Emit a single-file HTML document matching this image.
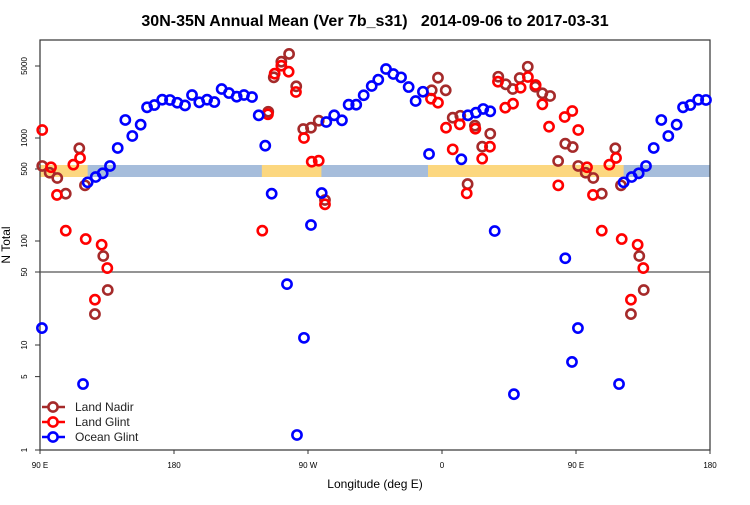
<!DOCTYPE html>
<html><head><meta charset="utf-8"><style>
body{margin:0;background:#fff}
svg text{font-family:"Liberation Sans",sans-serif}
</style></head><body>
<svg id="chart" width="750" height="500" xmlns="http://www.w3.org/2000/svg">
<text x="375" y="26" text-anchor="middle" font-size="16" font-weight="bold" style="white-space:pre">30N-35N Annual Mean (Ver 7b_s31)   2014-09-06 to 2017-03-31</text>
<g id="band"></g>
<g id="axes"></g>
<g id="marks"></g>
<text x="375" y="488" text-anchor="middle" font-size="12">Longitude (deg E)</text>
<text transform="translate(10,245) rotate(-90)" text-anchor="middle" font-size="12">N Total</text>
<g id="legend"></g>
</svg>
<script>
const xTicks=[90,180,270,360,450,540];
const xTickLabels=["90 E","180","90 W","0","90 E","180"];
const yTicksUpper=[50,100,500,1000,5000];
const yTicksLower=[1,5,10,50];
const landRanges=[[90,122],[239,279],[350.6,450]];
const nadirLon=[91.5,96.5,101.6,107.3,116.4,120.2,126.9,132.5,135.5,243.3,247,252.1,257.3,262.1,266.8,272,277.2,281.4,353.1,357.3,362.5,367.2,372.3,377.2,382.1,387,392.4,397.8,402.8,407.5,412.2,417.6,422.7,427.4,432.6,438,442.8,447.8];
const nadirVal=[535,460,409,288,794,347,19.7,71.5,33.4,1799,3882,5508,6545,3176,1223,1259,1472,250,2904,3849,2904,1574,1645,357,1316,823,1100,3935,3320,2990,3824,4920,3148,2715,2558,598,880,817];
const glintLon=[91.5,97.4,101.4,107.3,112.4,116.9,120.7,126.9,131.4,135.2,239.3,243.1,247.6,252.1,257,261.9,267.3,272.5,277.2,281.4,352.6,357.3,362.7,367.2,371.9,376.6,382.4,387,392.2,397.6,402.5,407.7,412.8,417.7,422.9,427.4,431.9,438.1,442.4,447.5];
const glintVal=[1196,520,280,126,551,640,104.5,27,92,54.6,126,1699,4210,5035,4403,2797,1000,589,602,227,2408,2202,1259,776,1358,290,1231,630,823,3522,1968,2152,3076,3910,3270,2124,1287,347,1599,1828];
const oceanLon=[91.3,118.9,122,127.4,132.1,137,142.2,147.3,152,157.6,161.9,166.8,172.1,177.3,182.2,187.4,192.1,197,202.2,207.1,212,216.9,222.1,227,232.4,236.9,241.3,245.6,255.9,262.6,267.3,272,279.2,282.3,287.6,292.8,297.3,302.4,307.4,312.8,317.2,322.4,327.3,332.5,337.6,342.3,347.2,351.3,373,377.4,382.8,387.7,392.4,395.4,408.3,442.8,447.3];
const oceanVal=[14.5,4.25,371,418,454,535,800,1496,1046,1346,1986,2090,2355,2340,2200,2070,2614,2220,2355,2235,2990,2733,2518,2614,2500,1660,842,288,38,1.39,11.7,143,292,1430,1660,1485,2105,2105,2600,3198,3683,4675,4180,3880,3125,2286,2814,699,621,1660,1762,1913,1816,125,3.4,68,6.9];

const NS="http://www.w3.org/2000/svg";
const L=40,R=710,T=40,B=450,MID=272;
function xs(lon){return L+(lon-90)*(R-L)/450;}
function ys(v){return v>=50? MID-(Math.log10(v)-Math.log10(50))*103 : B-Math.log10(v)*105;}
function mk(tag,attrs,parent){const e=document.createElementNS(NS,tag);for(const k in attrs)e.setAttribute(k,attrs[k]);parent.appendChild(e);return e;}
const band=document.getElementById('band'),axes=document.getElementById('axes'),marks=document.getElementById('marks'),legend=document.getElementById('legend');
let r=mk('rect',{x:L,y:165,width:R-L,height:12,fill:'#a6bddb'},band);


landRanges.forEach(rg=>{[0,360].forEach(off=>{
 let a=rg[0]+off,b=Math.min(rg[1]+off,540); if(a>=540)return;
 let e=mk('rect',{x:xs(a),y:165,width:xs(b)-xs(a),height:12,fill:'#fcd77f'},band);
 
 
});});
let f=mk('rect',{x:L,y:T,width:R-L,height:B-T,fill:'none',stroke:'#333','stroke-width':1.2},axes);


let ml=mk('line',{x1:L,x2:R,y1:MID,y2:MID,stroke:'#555','stroke-width':1.2},axes);


xTicks.forEach((t,i)=>{
 let x=xs(t);
 mk('line',{x1:x,x2:x,y1:B,y2:B+4,stroke:'#333'},axes);
 let tx=mk('text',{x:x,y:B+18,'text-anchor':'middle','font-size':8},axes);
 tx.textContent=xTickLabels[i];
 
 
});
function ytick(v){
 let y=ys(v);
 mk('line',{x1:L-5,x2:L,y1:y,y2:y,stroke:'#333'},axes);
 let tx=mk('text',{transform:`translate(27,${y}) rotate(-90)`,'text-anchor':'middle','font-size':8},axes);
 tx.textContent=String(v);
 
 
}
yTicksUpper.forEach(ytick);
yTicksLower.filter(v=>v<50).forEach(ytick);
function series(lons,vals,color,name){
 lons.forEach((lon,i)=>{[0,360].forEach(off=>{
  let l=lon+off; if(l>540)return;
  let c=mk('circle',{cx:xs(l),cy:ys(vals[i]),r:4.6,fill:'none',stroke:color,'stroke-width':2.6},marks);
  
  
 });});
}
series(nadirLon,nadirVal,'#a52a2a','land-nadir');
series(glintLon,glintVal,'#ff0000','land-glint');
series(oceanLon,oceanVal,'#0000ff','ocean-glint');
[['Land Nadir','#a52a2a',407],['Land Glint','#ff0000',422],['Ocean Glint','#0000ff',437]].forEach(d=>{
 let g=mk('g',{},legend);
 
 
 mk('line',{x1:42,x2:65,y1:d[2],y2:d[2],stroke:d[1],'stroke-width':2.6},g);
 mk('circle',{cx:53,cy:d[2],r:4.6,fill:'#fff',stroke:d[1],'stroke-width':2.6},g);
 let t=mk('text',{x:75,y:d[2]+4,'font-size':12,fill:'#222'},g);
 t.textContent=d[0];
});
</script>
</body></html>
